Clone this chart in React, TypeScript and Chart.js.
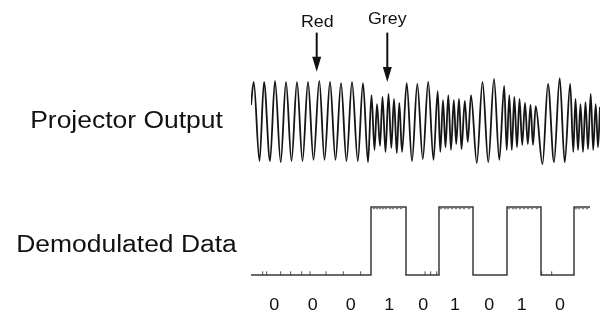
import React, { useEffect, useRef } from 'react';
import { Chart, registerables } from 'chart.js';

Chart.register(...registerables);

// Projector output: time (samples) of each peak / trough and its normalised amplitude
const waveTime = [
  0, 2.7, 8.5, 13, 19, 24, 29.7, 35, 40.5, 46, 51.5, 57, 62.5, 68.3, 73.5, 79, 84.5, 90, 95.5, 101, 106.8, 112, 117,
  120.5, 123.5, 126, 129, 131.5, 134.5, 137.5, 140.3, 143, 145.8, 148.3, 151,
  155.7, 161, 166.3, 171.8, 177.2, 182.5,
  186.7, 189.3, 192, 194.5, 197.3, 200, 202.8, 205.2, 208, 210.5, 213.8, 216.8, 220, 225.8,
  231.5, 237.3, 243, 248.3, 253.2, 255.7,
  258.3, 260.8, 263.3, 266, 268.5, 271.2, 274, 276.8, 279.5, 282, 284.7, 291.5,
  297, 303, 308.7, 313.7, 319.2, 322.3,
  324.5, 327, 329.5, 332, 334.5, 337, 339.7, 342.2, 344.7, 347, 349,
];
const waveAmp = [
  0.42, 1.0, -1.0, 1.0, -1.0, 1.03, -1.03, 1.0, -1.0, 1.0, -1.0, 1.0, -0.97, 1.03, -0.97, 1.0, -0.97, 0.97, -1.0, 1.0, -1.0, 0.97, -1.03,
  0.67, -0.72, 0.44, -0.62, 0.62, -0.77, 0.7, -0.67, 0.57, -0.8, 0.47, -0.77,
  0.97, -1.0, 0.95, -0.95, 1.0, -0.97,
  0.77, -0.77, 0.54, -0.65, 0.67, -0.72, 0.54, -0.57, 0.57, -0.7, 0.52, -0.52, 0.67, -1.05,
  1.0, -1.03, 1.08, -0.97, 0.9, -0.72,
  0.67, -0.72, 0.62, -0.65, 0.57, -0.59, 0.47, -0.57, 0.42, -0.59, 0.39, -1.08,
  0.95, -1.03, 1.1, -1.03, 0.95, -0.77,
  0.57, -0.72, 0.44, -0.77, 0.49, -0.7, 0.7, -0.72, 0.44, -0.65, 0.37,
];

// Demodulated data: level changes
const bitEdgeTime = [0, 120, 155, 188, 222, 256, 290, 323, 339];
const bitLevel = [0, 1, 0, 1, 0, 1, 0, 1, 1];
const lowGlitchTime = [11.7, 15.7, 29.7, 39.7, 50.7, 59, 75, 92.3, 109.7, 174, 179.7, 185.7, 290.7, 300.7];
const highGlitchTime = [
  123, 126, 129, 132, 135, 139, 142, 146, 150,
  190, 194, 197, 201, 205, 209, 213, 218,
  258, 262, 265, 269, 273, 277, 281, 286,
  325, 328, 332, 336,
];

// Bit labels
const bitCenterTime = [23.3, 61.7, 99.7, 138.3, 172.3, 204, 238.3, 270.7, 309];
const bitLabels = ['0', '0', '0', '1', '0', '1', '0', '1', '0'];

// Annotations
const arrowTime = [65.7, 136.3];
const arrowLabels = ['Red', 'Grey'];
const arrowTipAmp = [1.26, 1.0];
const arrowTopAmp = 2.25;
const traceLabels = ['Projector Output', 'Demodulated Data'];

const FONT = '"Liberation Sans", Arial, Helvetica, sans-serif';

function drawText(ctx: CanvasRenderingContext2D, text: string, x: number, y: number, size: number, sx: number) {
  ctx.save();
  ctx.font = `${size}px ${FONT}`;
  ctx.fillStyle = '#111';
  ctx.textAlign = 'center';
  ctx.textBaseline = 'alphabetic';
  ctx.translate(x, y);
  ctx.scale(sx, 1);
  ctx.fillText(text, 0, 0);
  ctx.restore();
}

const annotationPlugin = {
  id: 'annotations',
  afterDraw(chart: any) {
    const ctx: CanvasRenderingContext2D = chart.ctx;
    const xs = chart.scales.x;
    const ys = chart.scales.y;
    const ys2 = chart.scales.y2;
    const area = chart.chartArea;

    // trace labels
    const cx = area.left / 2 + 1;
    drawText(ctx, traceLabels[0], cx, ys.getPixelForValue(0) + 6.5, 23, 1.15);
    drawText(ctx, traceLabels[1], cx, ys2.getPixelForValue(0.5) + 10.5, 23, 1.15);

    // bit labels
    bitLabels.forEach((b, i) => {
      drawText(ctx, b, xs.getPixelForValue(bitCenterTime[i]), area.bottom + 15.3, 16, 1.12);
    });

    // arrows
    arrowTime.forEach((t, i) => {
      const x = xs.getPixelForValue(t);
      const top = ys.getPixelForValue(arrowTopAmp);
      const tip = ys.getPixelForValue(arrowTipAmp[i]);
      const headLen = 15;
      ctx.save();
      ctx.strokeStyle = '#111';
      ctx.fillStyle = '#111';
      ctx.lineWidth = 2;
      ctx.beginPath();
      ctx.moveTo(x, top);
      ctx.lineTo(x, tip - headLen + 1);
      ctx.stroke();
      ctx.beginPath();
      ctx.moveTo(x - 4.5, tip - headLen);
      ctx.lineTo(x + 4.5, tip - headLen);
      ctx.lineTo(x, tip);
      ctx.closePath();
      ctx.fill();
      ctx.restore();
      drawText(ctx, arrowLabels[i], x + (i === 0 ? 0.6 : 0), top - (i === 0 ? 6 : 9), 16.5, 1.08);
    });
  },
};

export default function App() {
  const ref = useRef<HTMLCanvasElement | null>(null);

  useEffect(() => {
    if (!ref.current) return;
    const chart = new Chart(ref.current, {
      type: 'line',
      data: {
        datasets: [
          {
            label: 'Projector Output',
            data: waveTime.map((t, i) => ({ x: t, y: waveAmp[i] })),
            yAxisID: 'y',
            borderColor: '#151515',
            borderWidth: 1.8,
            pointRadius: 0,
            cubicInterpolationMode: 'monotone',
            fill: false,
          },
          {
            label: 'Demodulated Data',
            data: bitEdgeTime.map((t, i) => ({ x: t, y: bitLevel[i] })),
            yAxisID: 'y2',
            borderColor: '#3a3a3a',
            borderWidth: 1.5,
            pointRadius: 0,
            stepped: 'before',
            fill: false,
          },
          {
            label: 'low noise',
            data: lowGlitchTime.map((t) => ({ x: t, y: 0.025 })),
            yAxisID: 'y2',
            showLine: false,
            pointStyle: 'line',
            rotation: 90,
            pointRadius: 2,
            borderColor: '#555',
            borderWidth: 1,
          },
          {
            label: 'high noise',
            data: highGlitchTime.map((t) => ({ x: t, y: 0.975 })),
            yAxisID: 'y2',
            showLine: false,
            pointStyle: 'line',
            pointRadius: 1.2,
            borderColor: '#666',
            borderWidth: 1,
          },
        ] as any,
      },
      options: {
        animation: false,
        responsive: false,
        devicePixelRatio: 1,
        layout: { autoPadding: false, padding: { left: 251, right: 0, top: 0, bottom: 23 } },
        plugins: { legend: { display: false }, tooltip: { enabled: false } },
        scales: {
          x: { type: 'linear', min: 0, max: 349, display: false },
          y: { type: 'linear', min: -4.392, max: 3.076, display: false },
          y2: { type: 'linear', min: -0.294, max: 4.044, display: false },
        },
      },
      plugins: [annotationPlugin],
    });
    return () => chart.destroy();
  }, []);

  return (
    <div style={{ position: 'absolute', left: 0, top: 0, width: 600, height: 318, background: '#fff' }}>
      <canvas ref={ref} width={600} height={318} style={{ width: 600, height: 318, display: 'block' }} />
    </div>
  );
}
